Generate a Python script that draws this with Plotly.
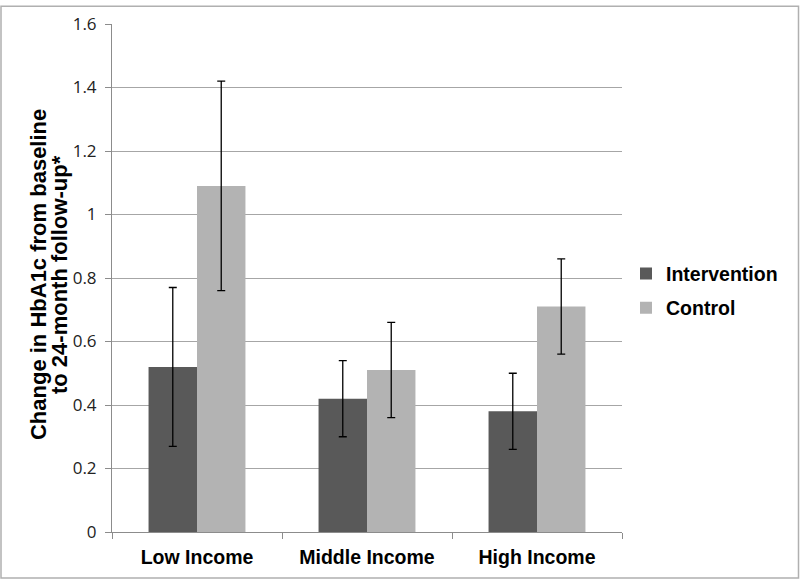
import plotly.graph_objects as go

categories = ["Low Income", "Middle Income", "High Income"]
intervention = [0.52, 0.42, 0.38]
intervention_err = [0.25, 0.12, 0.12]
control = [1.09, 0.51, 0.71]
control_err = [0.33, 0.15, 0.15]
y_ticks = [0, 0.2, 0.4, 0.6, 0.8, 1, 1.2, 1.4, 1.6]
y_title_lines = ["Change in HbA1c from baseline", "to 24-month follow-up*"]

W, H = 800, 580
ml, mr, mt, mb = 112, 178, 19, 48
pw, ph = W - ml - mr, H - mt - mb

BOLD = dict(family="Liberation Sans, Arial, sans-serif", color="black", weight="bold")

fig = go.Figure()
fig.add_trace(go.Bar(
    name="Intervention", x=categories, y=intervention, legendgroup="a",
    marker=dict(color="#595959", line=dict(width=0)),
    error_y=dict(type="data", array=intervention_err, color="black", thickness=1.3, width=4),
))
fig.add_trace(go.Bar(
    name="Control", x=categories, y=control, legendgroup="b",
    marker=dict(color="#b3b3b3", line=dict(width=0)),
    error_y=dict(type="data", array=control_err, color="black", thickness=1.3, width=4),
))

annotations = []
for i, (line, px) in enumerate(zip(y_title_lines, [38, 59])):
    annotations.append(dict(
        text=line, xref="paper", yref="paper",
        x=(px - ml) / pw, y=0.5 + 3 / ph, xanchor="center", yanchor="middle",
        textangle=-90, showarrow=False,
        font=dict(size=22, **BOLD),
    ))

fig.update_layout(
    width=W, height=H,
    margin=dict(l=ml, r=mr, t=mt, b=mb),
    paper_bgcolor="white", plot_bgcolor="white",
    barmode="group", bargap=0.43, bargroupgap=0.0,
    font=dict(family="Liberation Sans, Arial, sans-serif", color="black"),
    legend=dict(
        x=(626 - ml) / pw, y=0.475, xanchor="left", yanchor="middle",
        font=dict(size=19.5, **BOLD),
        itemwidth=30, tracegroupgap=6,
        bgcolor="rgba(0,0,0,0)",
    ),
    showlegend=True,
    annotations=annotations,
    shapes=[dict(
        type="rect", xref="paper", yref="paper",
        x0=(1 - ml) / pw, x1=(W - 1.5 - ml) / pw,
        y0=-(mb - 1.5) / ph, y1=1 + (mt - 1) / ph,
        line=dict(color="#b0b0b0", width=1.5), fillcolor="rgba(0,0,0,0)", layer="below",
    )],
)

fig.update_xaxes(
    showline=True, linecolor="#8c8c8c", linewidth=1,
    ticks="outside", tickson="boundaries", ticklen=6, tickcolor="#8c8c8c",
    tickfont=dict(size=19.5, **BOLD),
    ticklabelstandoff=8,
    showgrid=False,
)
fig.update_yaxes(
    range=[0, 1.6], tickvals=y_ticks,
    showline=True, linecolor="#8c8c8c", linewidth=1,
    ticks="outside", ticklen=6, tickcolor="#8c8c8c",
    showgrid=True, gridcolor="#a6a6a6", gridwidth=1,
    zeroline=False,
    tickfont=dict(size=17, family="Open Sans, Liberation Sans, sans-serif", color="#222222"),
    ticklabelstandoff=5,
)

fig.write_html("out.html", config={"displayModeBar": False},
               post_script="document.body.style.margin='0';")
